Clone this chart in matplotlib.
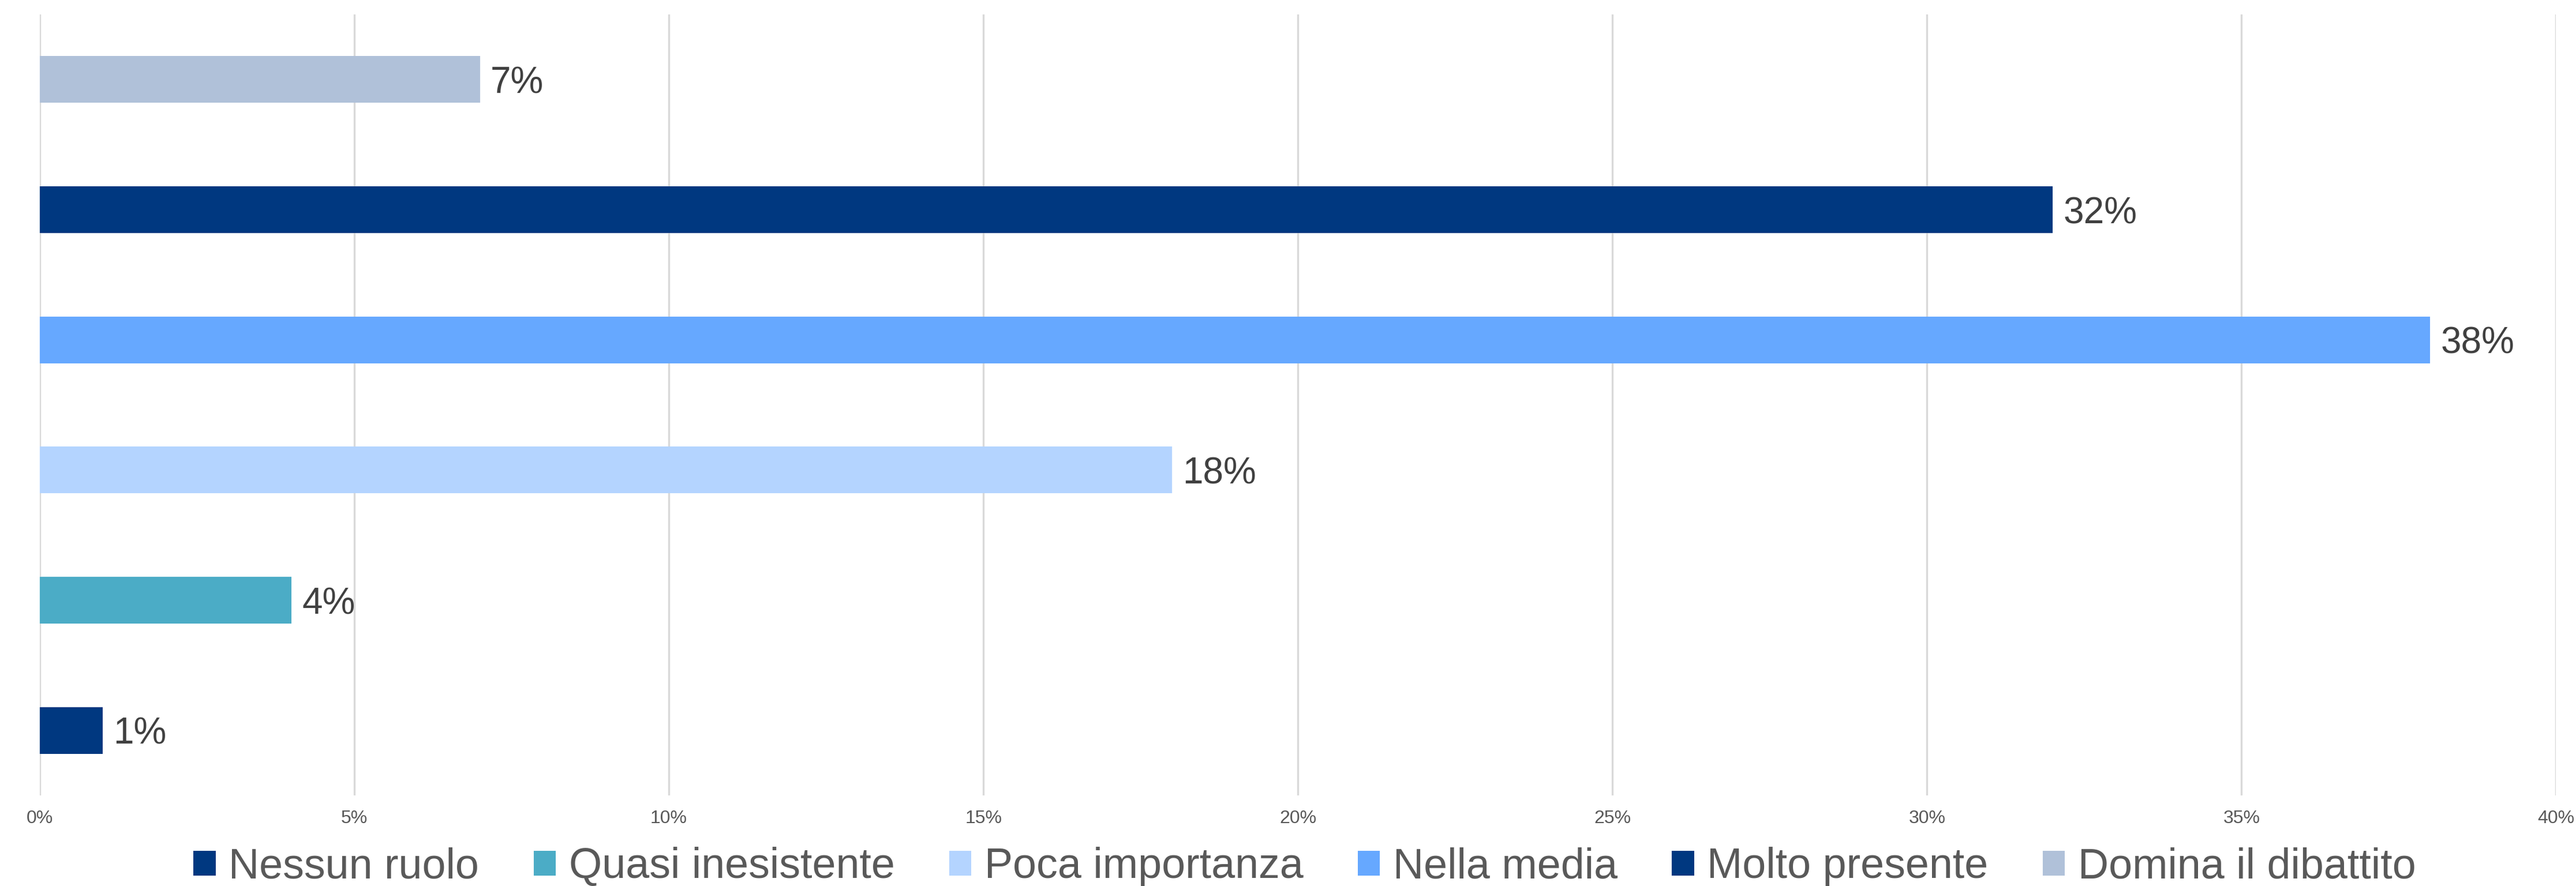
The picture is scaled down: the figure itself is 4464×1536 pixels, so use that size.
import matplotlib.pyplot as plt
from matplotlib.ticker import PercentFormatter

plt.rcParams['font.family'] = ['Liberation Sans', 'DejaVu Sans']

# categories from bottom to top, each its own series in the legend
categories = ['Nessun ruolo', 'Quasi inesistente', 'Poca importanza',
              'Nella media', 'Molto presente', 'Domina il dibattito']
values = [1, 4, 18, 38, 32, 7]
colors = ['#003880', '#4BACC6', '#B4D4FF', '#66A8FF', '#003880', '#B0C1D9']
xticks = [0, 5, 10, 15, 20, 25, 30, 35, 40]

fig = plt.figure(figsize=(22.32, 7.68), dpi=200)
ax = fig.add_axes([0.01546, 0.1022, 0.9768, 0.8815])

for i, (cat, val, col) in enumerate(zip(categories, values, colors)):
    ax.barh(i, val, height=0.36, color=col, label=cat, zorder=2)
    ax.annotate(f'{val}%', (val, i), xytext=(6.5, 0), textcoords='offset points',
                ha='left', va='center_baseline', fontsize=23, color='#404040')

ax.set_xlim(0, 40)
ax.set_ylim(-0.5, len(categories) - 0.5)
ax.set_xticks(xticks)
ax.xaxis.set_major_formatter(PercentFormatter(decimals=0))
ax.set_yticks([])
ax.tick_params(axis='x', length=0, labelsize=11.5, labelcolor='#595959', pad=9)
ax.grid(axis='x', color='#D9D9D9', linewidth=1.2, zorder=0)
for s in ax.spines.values():
    s.set_visible(False)

ax.legend(loc='center', bbox_to_anchor=(0.5065, 0.0215), bbox_transform=fig.transFigure,
          ncol=6, frameon=False, fontsize=26.5, labelcolor='#595959',
          handlelength=0.52, handleheight=0.52, handletextpad=0.31,
          columnspacing=1.28, borderpad=0)

fig.savefig('out.png', dpi=200)
